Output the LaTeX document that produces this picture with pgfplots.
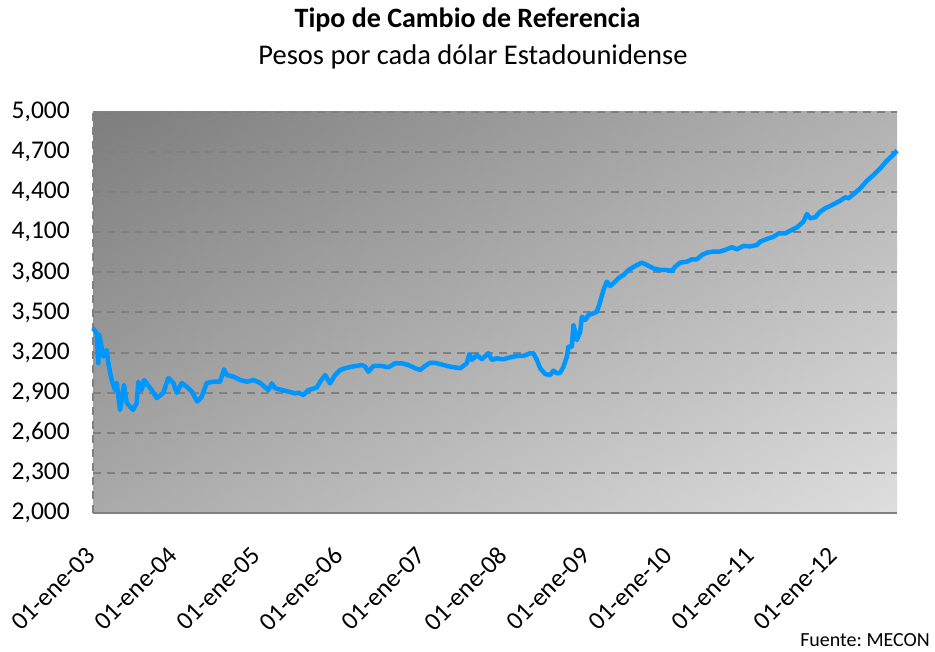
\documentclass[border=0pt]{standalone}
\usepackage{fontspec}
\setmainfont{Carlito}
\usepackage{pgfplots}
\pgfplotsset{compat=1.18}
\usepackage{pgfplotstable}
\definecolor{hleft}{RGB}{126,126,126}
\definecolor{hright}{RGB}{232,232,232}
\definecolor{vtop}{RGB}{126,126,126}
\definecolor{vbot}{RGB}{214,214,214}
\definecolor{gridc}{RGB}{128,128,128}
\definecolor{linec}{RGB}{0,150,255}
\pgfplotstableread{
t v
0.000 3382
0.045 3344
0.064 3120
0.076 3332
0.125 3170
0.166 3219
0.186 3120
0.227 2995
0.267 2920
0.288 2973
0.328 2771
0.376 2958
0.409 2823
0.485 2771
0.530 2823
0.550 2982
0.591 2920
0.619 2995
0.712 2920
0.773 2860
0.853 2898
0.914 3010
0.975 2973
1.016 2898
1.076 2973
1.137 2945
1.198 2908
1.266 2833
1.319 2870
1.380 2973
1.460 2982
1.541 2982
1.590 3075
1.623 3032
1.703 3020
1.785 2995
1.867 2982
1.947 2995
2.028 2973
2.127 2920
2.169 2970
2.209 2933
2.290 2920
2.370 2908
2.451 2895
2.492 2900
2.552 2883
2.613 2920
2.715 2938
2.755 2982
2.816 3032
2.876 2970
2.937 3032
2.998 3070
3.058 3083
3.140 3095
3.261 3107
3.301 3095
3.341 3057
3.402 3100
3.504 3100
3.584 3090
3.665 3120
3.746 3120
3.827 3107
3.908 3083
3.968 3070
4.029 3100
4.090 3124
4.150 3124
4.251 3107
4.333 3095
4.454 3083
4.535 3120
4.567 3190
4.596 3145
4.657 3182
4.717 3150
4.797 3195
4.839 3145
4.899 3157
4.979 3150
5.061 3165
5.142 3175
5.222 3175
5.303 3195
5.343 3195
5.385 3145
5.425 3083
5.485 3040
5.546 3032
5.586 3065
5.627 3045
5.668 3050
5.708 3095
5.749 3170
5.768 3245
5.809 3245
5.829 3407
5.870 3294
5.910 3357
5.931 3468
5.971 3444
6.011 3481
6.072 3494
6.113 3506
6.153 3581
6.193 3668
6.234 3731
6.274 3698
6.314 3718
6.375 3756
6.436 3781
6.497 3818
6.578 3848
6.659 3873
6.720 3855
6.800 3830
6.881 3818
6.962 3818
7.023 3810
7.063 3843
7.124 3873
7.205 3881
7.266 3898
7.326 3898
7.387 3930
7.448 3948
7.528 3956
7.609 3956
7.690 3973
7.751 3988
7.812 3973
7.892 3998
7.973 3995
8.055 4005
8.095 4030
8.176 4050
8.256 4067
8.317 4092
8.398 4092
8.459 4112
8.540 4137
8.620 4180
8.661 4237
8.701 4205
8.762 4213
8.823 4255
8.883 4280
8.944 4297
9.005 4317
9.066 4337
9.126 4362
9.166 4355
9.227 4385
9.308 4429
9.390 4486
9.470 4529
9.551 4579
9.632 4636
9.693 4671
9.754 4711
}\tabdata
\begin{document}
\frenchspacing
\begin{tikzpicture}
\useasboundingbox (0,0) rectangle (935pt,652pt);
\node[font=\fontsize{28}{33}\selectfont\bfseries] at (467.5pt,632pt) {Tipo de Cambio de Referencia};
\node[font=\fontsize{28.5}{34}\selectfont] at (473pt,595pt) {Pesos por cada dólar Estadounidense};
\node[font=\fontsize{20}{24}\selectfont, anchor=east, inner sep=0pt] at (930pt,12pt) {Fuente: MECON};
\begin{axis}[
  at={(93pt,139pt)}, anchor=south west,
  scale only axis, width=804pt, height=401pt,
  xmin=0, xmax=9.754, ymin=2000, ymax=5000,
  ytick={2000,2300,...,5000},
  xtick={0,1,...,9},
  xticklabels={01-ene-03,01-ene-04,01-ene-05,01-ene-06,01-ene-07,01-ene-08,01-ene-09,01-ene-10,01-ene-11,01-ene-12},
  major tick length=0pt,
  axis x line*=bottom, axis y line*=left,
  x axis line style={-, draw=gridc, line width=2pt},
  y axis line style={-, draw=gridc, line width=2pt, dash pattern=on 8pt off 6pt},
  ymajorgrids,
  major grid style={draw=gridc, line width=2pt, dash pattern=on 8pt off 6pt},
  axis background/.style={left color=hleft, right color=hright,
     postaction={shade, top color=vtop, bottom color=vbot, fill opacity=0.5}},
  /pgf/number format/assume math mode=true,
  yticklabel style={font=\fontsize{25.5}{30}\selectfont, /pgf/number format/1000 sep={,}, /pgf/number format/fixed, inner sep=0pt, xshift=-23pt, anchor=east},
  xticklabel style={font=\fontsize{25.5}{30}\selectfont, inner sep=0pt, xshift=-2pt, yshift=-38pt, rotate=45, anchor=east},
  clip=false,
]
\addplot[linec, line width=4.5pt, line join=round] table[x=t,y=v] {\tabdata};
\end{axis}
\end{tikzpicture}
\end{document}
